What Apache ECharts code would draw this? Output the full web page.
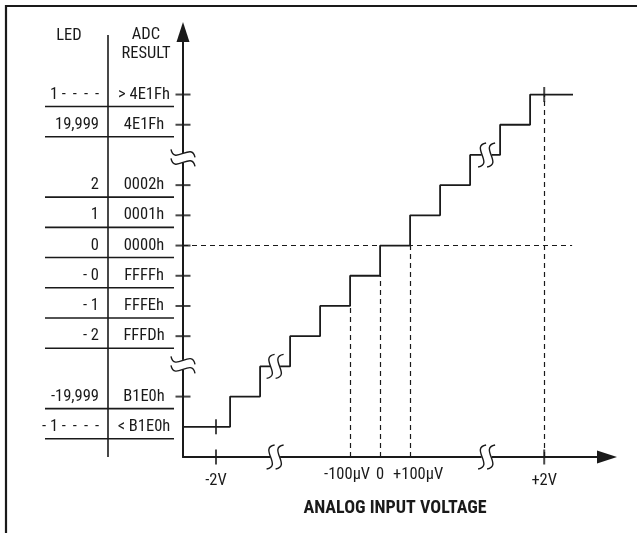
<!DOCTYPE html>
<html><head><meta charset="utf-8">
<script src="https://cdn.jsdelivr.net/npm/echarts@6/dist/echarts.min.js"></script>
<style>html,body{margin:0;padding:0;background:#fff}#c{width:637px;height:533px}</style>
</head><body><div id="c"></div>
<script>
// ---- data (x in LSB steps of 100µV, y in code rows) ----
var stepX = [-6.57, -5, -4, -3, -2, -1, 0, 1, 2, 3, 4, 5, 6.43];
var stepLevel = [0, 1, 2, 3, 4, 5, 6, 7, 8, 9, 10, 11, 11];
var rowLevels = [11, 10, 8, 7, 6, 5, 4, 3, 1, 0];
var ledLabels = ['1 -\u2009 -\u2009 -\u2009 -', '19,999', '2', '1', '0', '- 0', '- 1', '- 2', '-19,999', '- 1 -\u2009 -\u2009 -\u2009 -'];
var adcLabels = ['> 4E1Fh', '4E1Fh', '0002h', '0001h', '0000h', 'FFFFh', 'FFFEh', 'FFFDh', 'B1E0h', '< B1E0h'];
var yTickLevels = [11, 10, 8, 7, 6, 5, 4, 3, 1];
var xTickValues = [-5.47, 5.47];
var stepCross = [[-5.47, 0], [5.47, 11]];
var xLabelValues = [-5.47, -1, 0, 1, 5.47];
var xLabelTexts = ['-2V', '-100µV', '0', '+100µV', '+2V'];
var dashedV = [[-1, 4], [0, 5], [1, 6], [5.47, 11]];
var dashedH = [6, 6.4];
var axisBreaksX = [-3.5, 3.55];
var axisBreaksY = [2.05, 8.9];
var stepBreaks = [[-3.5, 2], [3.55, 9]];

var XMIN = -6.57, XMAX = 7.563, YMIN = -1, YMAX = 13.07;
var FONT = "'Liberation Sans Narrow','Arial Narrow','Roboto Condensed','DejaVu Sans Condensed',sans-serif";
var INK = '#1a1a1a';
var FS = 16.5;

var chart = echarts.init(document.getElementById('c'));

function renderBreak(params, api) {
  var p = api.coord([api.value(0), api.value(1)]);
  var onY = api.value(2) === 1;
  var ls = {stroke: INK, fill: null, lineWidth: 1.4};
  function S(dx) {
    return {type: 'bezierCurve', x: dx, shape: {x1: 4, y1: -12, cpx1: -12, cpy1: -9, cpx2: 12, cpy2: 9, x2: -4, y2: 12}, style: ls};
  }
  return {type: 'group', x: p[0], y: p[1], rotation: onY ? Math.PI / 2 : 0, children: [
    {type: 'rect', shape: {x: -5, y: -4, width: 10, height: 8}, style: {fill: '#fff'}},
    S(-4.5), S(4.5)
  ]};
}

var breakData = axisBreaksX.map(function (v) { return [v, YMIN, 0]; })
  .concat(axisBreaksY.map(function (v) { return [XMIN, v, 1]; }))
  .concat(stepBreaks.map(function (b) { return [b[0], b[1], 0]; }));

var labelMap = {};
xLabelValues.forEach(function (v, i) { labelMap[v] = xLabelTexts[i]; });

var option = {
  animation: false,
  backgroundColor: '#fff',
  grid: {left: 183, right: 30, top: 32, bottom: 76},
  xAxis: {
    type: 'value', min: XMIN, max: XMAX,
    axisLine: {show: true, onZero: false, symbol: ['none', 'triangle'], symbolSize: [13, 20], lineStyle: {color: INK, width: 2}},
    axisTick: {show: false}, splitLine: {show: false},
    axisLabel: {
      customValues: xLabelValues, margin: 9, color: INK, fontFamily: FONT, fontSize: FS,
      formatter: function (v) {
        var t = labelMap[v];
        if (v === 1) return '{r|' + t + '}';
        if (v === -1) return '{l|' + t + '}';
        if (Math.abs(v) > 5) return '{v|' + t + '}';
        return t;
      },
      rich: {
        r: {padding: [0, 0, 0, 16], fontFamily: FONT, fontSize: FS, color: INK},
        l: {padding: [0, 6, 0, 0], fontFamily: FONT, fontSize: FS, color: INK},
        v: {padding: [6, 0, 0, 0], fontFamily: FONT, fontSize: FS, color: INK}
      }
    },
    name: 'ANALOG INPUT VOLTAGE', nameLocation: 'middle', nameGap: 42,
    nameTextStyle: {fontFamily: FONT, fontWeight: 'bold', fontSize: 18, color: INK}
  },
  yAxis: {
    type: 'value', min: YMIN, max: YMAX,
    axisLine: {show: true, onZero: false, symbol: ['none', 'triangle'], symbolSize: [13, 20], lineStyle: {color: INK, width: 2}},
    axisTick: {show: false}, splitLine: {show: false}, axisLabel: {show: false}
  },
  series: [
    {type: 'lines', coordinateSystem: 'cartesian2d', silent: true, z: 1,
      lineStyle: {color: INK, width: 1.2, type: [5, 4], opacity: 1},
      data: dashedV.map(function (d) { return {coords: [[d[0], YMIN], [d[0], d[1]]]}; })
        .concat([{coords: [[XMIN, dashedH[0]], [dashedH[1], dashedH[0]]]}])
    },
    {type: 'line', step: 'end', showSymbol: false, silent: true, z: 3,
      lineStyle: {color: INK, width: 1.8},
      data: stepX.map(function (x, i) { return [x, stepLevel[i]]; })
    },
    {type: 'scatter', silent: true, z: 4, clip: false, symbol: 'rect', symbolSize: [15, 2],
      itemStyle: {color: INK},
      data: yTickLevels.map(function (k) { return [XMIN, k]; })
    },
    {type: 'scatter', silent: true, z: 4, clip: false, symbol: 'rect', symbolSize: [2, 15],
      itemStyle: {color: INK},
      data: xTickValues.map(function (v) { return [v, YMIN]; }).concat(stepCross)
    },
    {type: 'custom', silent: true, z: 6, clip: false, renderItem: renderBreak, data: breakData}
  ]
};
chart.setOption(option);

function py(k) { return chart.convertToPixel({yAxisIndex: 0}, k); }
var tStyle = function (txt, x, y, align, size, weight) {
  return {type: 'text', x: x, y: y, silent: true, z: 10,
    style: {text: txt, fill: INK, font: (weight || 'normal') + ' ' + (size || FS) + 'px ' + FONT, textAlign: align, textVerticalAlign: 'middle'}};
};
var g = [];
g.push({type: 'polyline', silent: true, z: 20, shape: {points: [[6, 640], [6, 6], [700, 6]]}, style: {stroke: INK, lineWidth: 2.2, fill: null}});
g.push(tStyle('LED', 69, 36, 'center'));
g.push(tStyle('ADC', 146, 35, 'center'));
g.push(tStyle('RESULT', 146, 54, 'center'));
g.push({type: 'line', silent: true, shape: {x1: 108, y1: 35, x2: 108, y2: py(YMIN)}, style: {stroke: INK, lineWidth: 1.6}});
rowLevels.forEach(function (k, i) {
  var y = py(k);
  g.push(tStyle(ledLabels[i], 99, y, 'right'));
  g.push(tStyle(adcLabels[i], 144, y, 'center'));
  g.push({type: 'line', silent: true, shape: {x1: 45, y1: y + 12, x2: 174, y2: y + 12}, style: {stroke: INK, lineWidth: 1.6}});
});
chart.setOption({graphic: g});
</script>
</body></html>
